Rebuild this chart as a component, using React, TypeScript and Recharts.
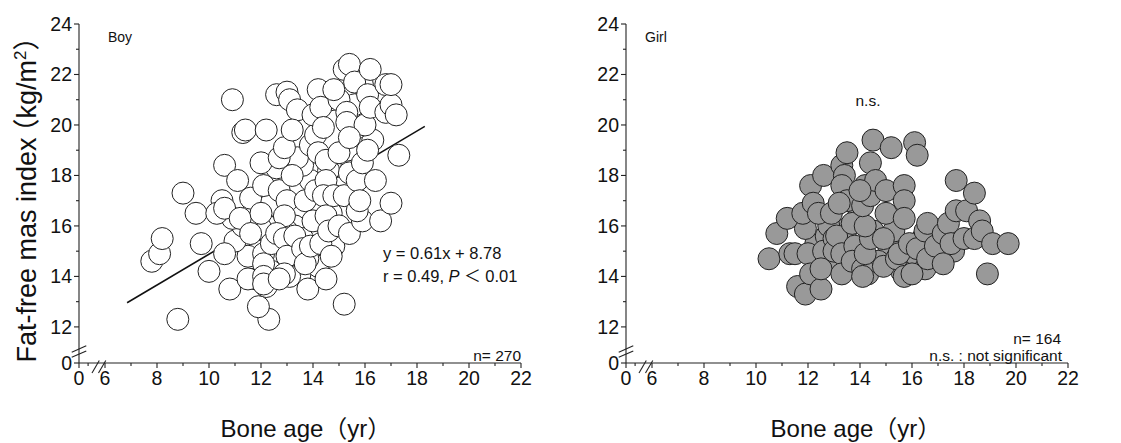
import React from "react";
import {
  ScatterChart,
  Scatter,
  XAxis,
  YAxis,
  ReferenceLine,
  Customized,
} from "recharts";

// Bone age (yr) vs fat-free mass index (kg/m2)
const boyAge = [
  12.5, 12.8, 13.3, 13.6, 13.2, 12.3, 11.9, 11.5, 11.0, 11.3, 13.9, 14.2, 14.7, 15.0, 15.5, 15.3, 14.6, 13.6, 13.4, 12.6,
  13.9, 14.1, 15.6, 15.9, 14.7, 13.0, 12.0, 11.6, 10.9, 10.5, 12.4, 13.5, 14.2, 13.1, 11.8, 12.2, 13.8, 14.8, 16.3, 15.7,
  10.9, 8.8, 12.3, 11.9, 15.2, 7.8, 8.1, 8.2, 9.0, 9.5, 9.7, 10.0, 10.6, 10.3, 10.6, 10.6, 10.8, 11.1, 11.2, 11.3,
  11.4, 11.5, 11.6, 11.6, 12.0, 12.2, 12.1, 12.0, 12.1, 12.1, 12.1, 12.1, 12.4, 12.6, 13.0, 13.1, 13.4, 12.7, 12.9, 12.7,
  13.2, 13.2, 13.0, 12.9, 12.6, 12.9, 13.0, 12.9, 12.7, 13.3, 13.6, 13.7, 13.8, 13.7, 13.9, 14.0, 14.1, 14.2, 14.0, 14.3,
  14.4, 14.2, 14.5, 14.5, 14.4, 14.5, 14.3, 14.5, 14.7, 14.6, 14.8, 15.0, 15.0, 14.8, 15.2, 15.4, 15.3, 15.3, 15.0, 15.2,
  15.4, 15.4, 15.6, 15.7, 15.9, 15.9, 15.7, 16.0, 16.1, 16.1, 16.2, 16.2, 16.4, 16.6, 16.8, 17.0, 16.8, 17.0, 17.2, 17.0,
  17.3, 15.4, 15.8,
];
const boyFfmi = [
  16.2, 16.6, 16.0, 15.5, 15.2, 16.8, 15.0, 14.8, 15.4, 16.0, 17.8, 16.8, 16.5, 17.5, 18.4, 19.0, 18.2, 18.4, 18.7, 18.3,
  19.2, 19.6, 20.8, 21.6, 21.0, 15.8, 15.9, 16.4, 16.3, 17.0, 14.2, 14.1, 14.4, 14.0, 13.9, 13.6, 14.7, 15.2, 19.4, 19.9,
  21.0, 12.3, 12.3, 12.8, 12.9, 14.6, 14.9, 15.5, 17.3, 16.5, 15.3, 14.2, 18.4, 16.5, 16.7, 14.9, 13.5, 17.8, 16.3, 19.7,
  19.8, 13.9, 17.1, 15.7, 18.5, 19.8, 17.6, 16.5, 14.9, 14.5, 14.0, 13.7, 15.3, 21.2, 21.3, 21.0, 20.6, 18.7, 19.1, 17.4,
  18.0, 19.8, 17.0, 16.4, 15.7, 15.5, 14.8, 14.1, 13.9, 15.6, 15.1, 14.5, 13.5, 17.0, 15.2, 16.2, 17.4, 21.4, 20.4, 20.7,
  19.9, 18.9, 18.6, 17.8, 17.2, 16.4, 15.3, 13.9, 14.8, 15.8, 17.2, 18.9, 21.0, 21.4, 22.2, 22.4, 20.5, 20.1, 16.0, 17.2,
  15.7, 18.1, 21.7, 17.8, 18.5, 16.2, 16.6, 20.0, 21.2, 19.0, 22.2, 20.7, 17.8, 16.2, 21.6, 16.9, 20.5, 20.8, 20.4, 21.6,
  18.8, 19.5, 17.0,
];

const girlAge = [
  12.3, 12.7, 13.5, 13.9, 14.5, 15.1, 14.7, 13.4, 12.9, 15.3, 15.9, 16.4, 14.2, 12.8, 11.9, 16.9, 17.6, 15.6, 14.3, 16.5,
  10.5, 10.8, 11.2, 11.3, 11.5, 11.6, 11.9, 12.0, 11.8, 12.1, 12.2, 12.1, 12.5, 12.6, 12.4, 12.6, 12.5, 12.9, 13.0, 13.0,
  13.1, 13.3, 13.4, 13.3, 13.5, 13.5, 13.2, 13.3, 13.3, 13.7, 13.8, 13.7, 14.1, 14.1, 14.2, 14.4, 14.2, 14.1, 14.4, 14.4,
  14.6, 14.5, 14.0, 15.0, 15.0, 14.9, 14.9, 15.2, 15.4, 15.5, 15.7, 15.7, 15.7, 15.7, 15.9, 16.0, 16.1, 16.2, 16.2, 16.5,
  16.6, 16.6, 16.9, 17.2, 17.2, 17.4, 17.5, 17.7, 17.7, 18.1, 18.4, 18.0, 18.4, 18.6, 18.7, 19.1, 19.7, 18.9,
];
const girlFfmi = [
  15.3, 15.6, 15.9, 16.3, 15.8, 15.2, 14.6, 14.4, 14.7, 15.8, 14.6, 15.5, 17.6, 16.0, 15.9, 15.7, 15.0, 14.2, 14.1, 14.3,
  14.7, 15.7, 16.3, 14.9, 14.9, 13.6, 13.3, 14.9, 16.5, 17.6, 16.9, 14.1, 13.5, 18.0, 16.5, 15.0, 14.3, 16.5, 15.5, 15.0,
  15.6, 18.4, 18.0, 17.6, 18.9, 17.0, 16.9, 14.9, 14.1, 16.1, 15.2, 14.6, 14.3, 14.0, 14.9, 15.5, 16.0, 16.8, 17.2, 18.5,
  17.8, 19.4, 17.4, 17.4, 16.5, 15.5, 14.4, 19.1, 14.7, 14.9, 14.0, 17.6, 17.0, 16.3, 15.3, 14.1, 19.3, 18.8, 15.1, 15.8,
  16.1, 14.7, 15.2, 15.7, 14.5, 16.1, 15.3, 17.8, 16.6, 16.6, 17.3, 15.5, 15.5, 16.2, 15.8, 15.3, 15.3, 14.1,
];

// regression for boys: y = 0.61x + 8.78, drawn over the observed range
const fitSlope = 0.61;
const fitIntercept = 8.78;
const fitRange = [6.85, 18.3];

// axis: "0" sits just under the break on both axes
const xTicks = [5, 5.35, 6, 7, 8, 9, 10, 11, 12, 13, 14, 15, 16, 17, 18, 19, 20, 21, 22];
const yZero = 10.57;
const yTicks = [yZero, 12, 13, 14, 15, 16, 17, 18, 19, 20, 21, 22, 23, 24];

const boyData = boyAge.map((x, i) => ({ x, y: boyFfmi[i] }));
const girlData = girlAge.map((x, i) => ({ x, y: girlFfmi[i] }));

const FONT = '"Liberation Sans", Arial, "Noto Sans CJK JP", sans-serif';
const INK = "#222";
const PLOT_W = 442;

const XTick = (props: any) => {
  const { x, y, payload } = props;
  const v = payload.value;
  const major = v === 5 || (v >= 6 && v % 2 === 0);
  return (
    <g>
      <line x1={x} x2={x} y1={y} y2={y + (major ? 5 : 3)} stroke={INK} strokeWidth={1.1} />
      {major && (
        <text x={x} y={y + 22} textAnchor="middle" fontSize={19.5} fontFamily={FONT} fill="#111">
          {v === 5 ? "0" : v}
        </text>
      )}
    </g>
  );
};

const YTick = (props: any) => {
  const { x, y, payload } = props;
  const v = payload.value;
  const major = v === yZero || v % 2 === 0;
  return (
    <g>
      <line x1={x - (major ? 5 : 3)} x2={x} y1={y} y2={y} stroke={INK} strokeWidth={1.1} />
      {major && (
        <text x={x - 7} y={y + 7} textAnchor="end" fontSize={19.5} fontFamily={FONT} fill="#111">
          {v === yZero ? "0" : v}
        </text>
      )}
    </g>
  );
};

const circle = (fill: string) => (p: any) =>
  <circle cx={p.cx} cy={p.cy} r={11} fill={fill} stroke={INK} strokeWidth={1} />;

const breakLines = [
  // y-axis break
  [{ x: 4.72, y: 11.0 }, { x: 5.28, y: 11.25 }],
  [{ x: 4.72, y: 10.8 }, { x: 5.28, y: 11.05 }],
  // x-axis break
  [{ x: 5.5, y: 10.17 }, { x: 5.78, y: 10.67 }],
  [{ x: 5.75, y: 10.17 }, { x: 6.03, y: 10.67 }],
];

function Panel({
  data,
  fill,
  width,
  leftAxis,
  children,
}: {
  data: { x: number; y: number }[];
  fill: string;
  width: number;
  leftAxis: number;
  children?: React.ReactNode;
}) {
  return (
    <ScatterChart
      width={width}
      height={443}
      margin={{ top: 24, right: width - leftAxis - PLOT_W, bottom: 0, left: 0 }}
      style={{ overflow: "visible" }}
    >
      <XAxis
        type="number"
        dataKey="x"
        domain={[5, 22]}
        ticks={xTicks}
        interval={0}
        height={80}
        tickSize={0}
        tickMargin={0}
        tick={<XTick />}
        axisLine={{ stroke: INK, strokeWidth: 1.1 }}
        allowDataOverflow
      />
      <YAxis
        type="number"
        dataKey="y"
        domain={[yZero, 24]}
        ticks={yTicks}
        interval={0}
        width={leftAxis}
        tickSize={0}
        tickMargin={0}
        tick={<YTick />}
        axisLine={{ stroke: INK, strokeWidth: 1.1 }}
        allowDataOverflow
      />
      {breakLines.map((seg, i) => (
        <ReferenceLine key={i} segment={seg} stroke={INK} strokeWidth={1.1} ifOverflow="visible" />
      ))}
      <Scatter data={data} shape={circle(fill)} isAnimationActive={false} />
      {children}
    </ScatterChart>
  );
}

const txt = { fontFamily: FONT, fill: "#111" };

const XLabel = ({ cx }: { cx: number }) => (
  <text x={cx} y={437} fontSize={24} textAnchor="middle" {...txt}>
    Bone age（yr）
  </text>
);

export default function App() {
  return (
    <div style={{ position: "absolute", left: 0, top: 0, width: 1121, height: 443, background: "#fff" }}>
      <div style={{ position: "absolute", left: 0, top: 0 }}>
        <Panel data={boyData} fill="#fff" width={560} leftAxis={79}>
          <ReferenceLine
            segment={fitRange.map((x) => ({ x, y: fitSlope * x + fitIntercept }))}
            stroke="#111"
            strokeWidth={1.6}
          />
          <Customized
            component={() => (
              <g>
                <text x={108} y={42} fontSize={14} {...txt}>Boy</text>
                <text x={383} y={259} fontSize={16.5} {...txt}>y = 0.61x + 8.78</text>
                <text x={383} y={282} fontSize={16.5} {...txt}>
                  r = 0.49, <tspan fontStyle="italic">P</tspan> ＜ 0.01
                </text>
                <text x={521} y={361} fontSize={15.5} textAnchor="end" {...txt}>n= 270</text>
                <XLabel cx={306} />
                <text transform="translate(36,193) rotate(-90)" fontSize={27} textAnchor="middle" {...txt}>
                  Fat-free mas index<tspan dx={-8}>（</tspan>kg/m<tspan dy={-10} fontSize={17}>2</tspan>
                  <tspan dy={10}>）</tspan>
                </text>
              </g>
            )}
          />
        </Panel>
      </div>
      <div style={{ position: "absolute", left: 560, top: 0 }}>
        <Panel data={girlData} fill="#999" width={561} leftAxis={66}>
          <Customized
            component={() => (
              <g>
                <text x={85} y={42} fontSize={14} {...txt}>Girl</text>
                <text x={308} y={106} fontSize={15.5} textAnchor="middle" {...txt}>n.s.</text>
                <text x={501} y={344} fontSize={15.5} textAnchor="end" {...txt}>n= 164</text>
                <text x={502} y={361} fontSize={15.5} textAnchor="end" {...txt}>n.s. : not significant</text>
                <XLabel cx={296} />
              </g>
            )}
          />
        </Panel>
      </div>
    </div>
  );
}
